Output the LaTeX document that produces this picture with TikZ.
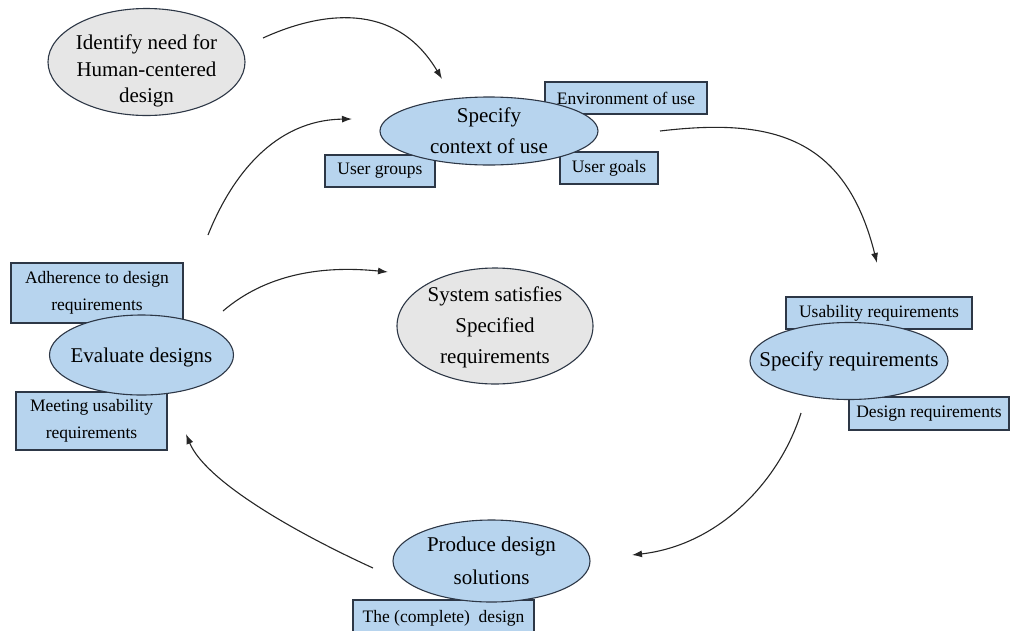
\documentclass[tikz,border=0pt]{standalone}
\usepackage{fontspec}
\setmainfont{LiberationSerif}[Extension=.ttf, UprightFont=*-Regular, BoldFont=*-Bold, ItalicFont=*-Italic]
\usetikzlibrary{arrows.meta,shapes.geometric}
\definecolor{hcblue}{RGB}{183,212,238}
\definecolor{hcgray}{RGB}{230,230,230}
\definecolor{hcedge}{RGB}{45,55,70}

\begin{document}
\begin{tikzpicture}[x=1pt,y=-1pt,
  stage/.style={ellipse, draw=hcedge, line width=1.1pt, fill=hcblue, inner sep=0pt},
  goal/.style={stage, fill=hcgray},
  stagetext/.style={inner sep=0pt, align=center, font=\fontsize{21}{31}\selectfont},
  facet/.style={rectangle, draw=hcedge, line width=1.1pt, fill=hcblue, inner sep=0pt,
    align=center, minimum height=32pt, font=\fontsize{17.5}{27}\selectfont},
  flow/.style={line width=1.1pt, draw=black!85, -{Latex[length=10pt,width=7pt]}},
]
\useasboundingbox (0,0) rectangle (1012,630);
\clip (0,0) rectangle (1012,630);

% aspect boxes (drawn first, the stage ellipses overlap them)
\node[facet, minimum width=162pt] (env)    at (626,98)  {Environment of use};
\node[facet, minimum width=98pt]  (ugoals) at (609,168) {User goals};
\node[facet, minimum width=110pt] (ugroups) at (380,171) {User groups};
\node[facet, minimum width=186pt] (usereq) at (879,313) {Usability requirements};
\node[facet, minimum width=160pt, minimum height=33pt] (desreq) at (929,413.5) {Design requirements};
\node[facet, minimum width=172pt, minimum height=60pt] (adhere) at (97,293) {Adherence to design\\requirements};
\node[facet, minimum width=151pt, minimum height=58pt] (meet)   at (91.5,421) {Meeting usability\\requirements};
\node[facet, minimum width=181pt, minimum height=36pt] (complete) at (443.5,618) {The (complete)~~design};

% process stages
\node[goal, minimum width=197pt, minimum height=107pt,
  label={[stagetext, font=\fontsize{21}{26.5}\selectfont, yshift=-9pt]center:Identify need for\\Human-centered\\design}]
  (identify) at (146.5,62) {};
\node[stage, minimum width=218pt, minimum height=68pt,
  label={[stagetext]center:Specify\\context of use}]
  (context) at (489,131) {};
\node[stage, minimum width=198pt, minimum height=77pt,
  label={[stagetext]center:Specify requirements}]
  (specreq) at (849,361) {};
\node[stage, minimum width=197pt, minimum height=82pt,
  label={[stagetext, font=\fontsize{21}{33}\selectfont]center:Produce design\\solutions}]
  (produce) at (491.5,561) {};
\node[stage, minimum width=184pt, minimum height=80pt,
  label={[stagetext, yshift=-2pt]center:Evaluate designs}]
  (evaluate) at (141.5,355) {};
\node[goal, minimum width=196pt, minimum height=116pt,
  label={[stagetext, yshift=-1pt]center:System satisfies\\Specified\\requirements}]
  (system) at (495,326) {};

% free ends of the cycle arrows
\coordinate (i-out) at (263,38);   \coordinate (c-in1) at (442,79);
\coordinate (e-up)  at (208,235);  \coordinate (c-in2) at (352,119);
\coordinate (c-out) at (660,131);  \coordinate (r-in)  at (877,263);
\coordinate (r-out) at (801,413);  \coordinate (p-in)  at (632,555);
\coordinate (p-out) at (373,568);  \coordinate (e-in)  at (186,434);
\coordinate (e-out) at (223,311);  \coordinate (s-in)  at (388,272);

\draw[flow] (i-out) .. controls (320,12) and (395,0) .. (c-in1);
\draw[flow] (e-up) .. controls (232,175) and (275,120) .. (c-in2);
\draw[flow] (c-out) .. controls (770,118) and (845,135) .. (r-in);
\draw[flow] (r-out) .. controls (780,480) and (720,545) .. (p-in);
\draw[flow] (p-out) .. controls (290,530) and (205,480) .. (e-in);
\draw[flow] (e-out) .. controls (265,275) and (320,265) .. (s-in);
\end{tikzpicture}
\end{document}
